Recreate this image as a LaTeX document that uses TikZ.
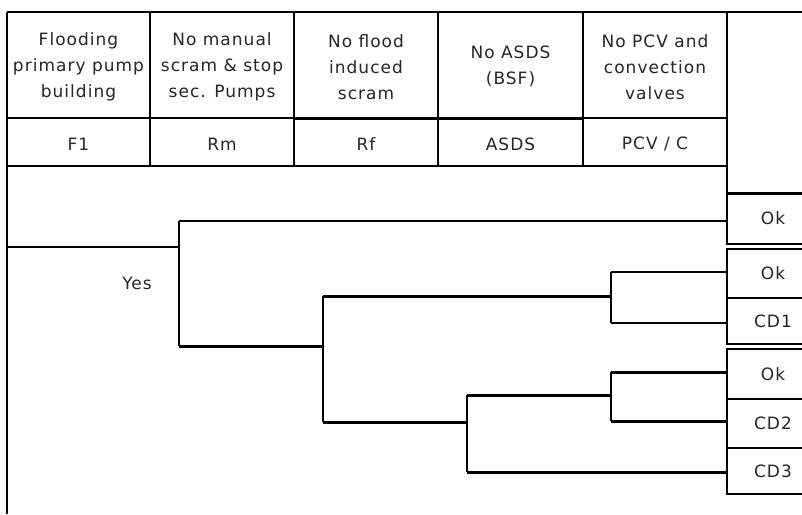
\documentclass[tikz,border=0pt]{standalone}
\usepackage{fontspec}
\setmainfont{DejaVu Sans}[LetterSpace=6]
\begin{document}
\begin{tikzpicture}[x=1pt,y=-1pt,
  thinln/.style={line width=1.4pt,black},
  thickln/.style={line width=3pt,black},
  gridln/.style={line width=1.5pt,black},
  divln/.style={line width=2.4pt,black},
  txt/.style={align=center,inner sep=0pt,text=black!85,font=\fontsize{17}{26}\selectfont},
  outbox/.style={draw,line width=1.4pt,minimum width=92pt,inner sep=0pt,text=black!85,font=\fontsize{17}{26}\selectfont}]
\useasboundingbox (0,0) rectangle (802,514);
\fill[white] (0,0) rectangle (802,514);
% grid of the header
\draw[gridln] (7,12) -- (815,12);
\draw[gridln] (7,12) -- (7,514);
\draw[gridln] (7,118) -- (294,118);
\draw[thickln] (294,118) -- (583,118);
\draw[gridln] (583,118) -- (727,118);
\draw[gridln] (7,166) -- (727,166);
\foreach \x in {150,294,438,583} \draw[divln] (\x,12) -- (\x,166);
\draw[divln] (727,12) -- (727,193);
% header texts
\node[txt] (h1) at (78.5,67) {Flooding\\primary pump\\building};
\node[txt] (h2) at (222,67) {No manual\\scram \& stop\\sec. Pumps};
\node[txt] (h3) at (366,67) {No flood\\induced\\scram};
\node[txt] (h4) at (510.5,66) {No ASDS\\(BSF)};
\node[txt] (h5) at (655,67) {No PCV and\\convection\\valves};
\node[txt] (l1) at (78.5,144) {F1};
\node[txt] (l2) at (222,144) {Rm};
\node[txt] (l3) at (366,144) {Rf};
\node[txt] (l4) at (510.5,144) {ASDS};
\node[txt] (l5) at (655,144) {PCV / C};
% outcome boxes
\node[outbox,minimum height=51pt] (ok1) at (773,218.5) {Ok};
\node[outbox,minimum height=49pt] (ok2) at (773,273.5) {Ok};
\node[outbox,minimum height=46pt] (cd1) at (773,321) {CD1};
\node[outbox,minimum height=50pt] (ok3) at (773,374) {Ok};
\node[outbox,minimum height=49pt] (cd2) at (773,423.5) {CD2};
\node[outbox,minimum height=46pt] (cd3) at (773,471) {CD3};
\draw[thickln] (727,193) -- (819,193);
% Yes label
\node[txt] (yes) at (137,283) {Yes};
% tree
\coordinate (s) at (7,247);
\coordinate (j1) at (179,247);
\coordinate (j1t) at (179,221);
\coordinate (j1b) at (179,346);
\coordinate (j2t) at (323,296);
\coordinate (j2m) at (323,346);
\coordinate (j2b) at (323,422);
\coordinate (j3t) at (611,272);
\coordinate (j3m) at (611,296);
\coordinate (j3b) at (611,323);
\coordinate (j4t) at (467,395);
\coordinate (j4m) at (467,422);
\coordinate (j4b) at (467,472);
\coordinate (j5t) at (611,372);
\coordinate (j5m) at (611,395);
\coordinate (j5b) at (611,421);
\draw[thinln] (s) -- (j1);
\draw[thinln] (j1t) -- (j1b);
\draw[thinln] (j1t) -- (j1t -| ok1.west);
\draw[thickln] (j1b) -- (j2m);
\draw[thinln] (j2t) -- (j2b);
\draw[thickln] (j2t) -- (j3m);
\draw[thinln] (j3t) -- (j3b);
\draw[thinln] (j3t) -- (j3t -| ok2.west);
\draw[thinln] (j3b) -- (j3b -| cd1.west);
\draw[thickln] (j2b) -- (j4m);
\draw[thinln] (j4t) -- (j4b);
\draw[thickln] (j4t) -- (j5m);
\draw[thinln] (j5t) -- (j5b);
\draw[thickln] (j5t) -- (j5t -| ok3.west);
\draw[thickln] (j5b) -- (j5b -| cd2.west);
\draw[thickln] (j4b) -- (j4b -| cd3.west);
\end{tikzpicture}
\end{document}
